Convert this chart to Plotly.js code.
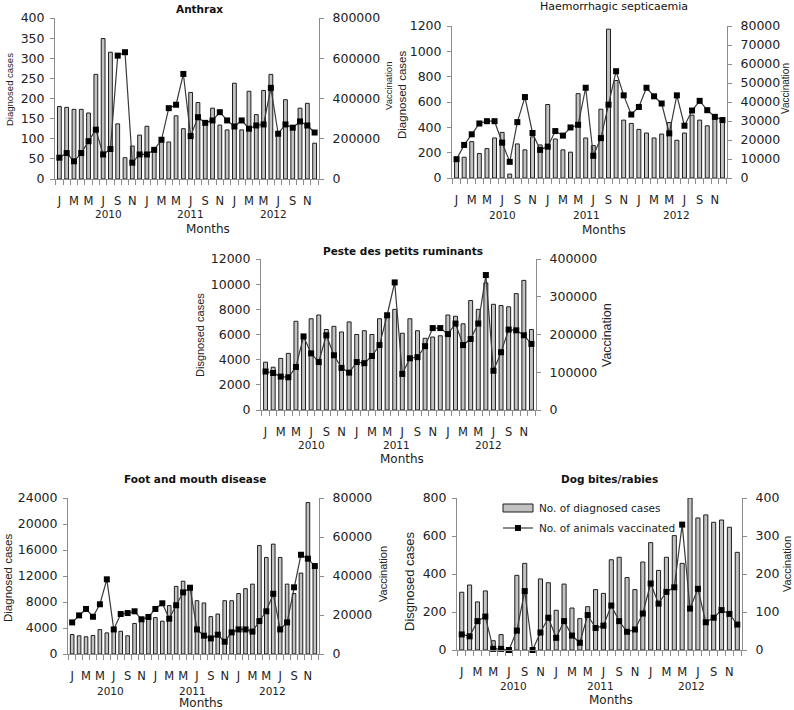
<!DOCTYPE html>
<html>
<head>
<meta charset="utf-8">
<script src="https://cdn.plot.ly/plotly-3.0.1.min.js"></script>
<style>
  html, body { margin: 0; padding: 0; background: #fff; }
  #chart { width: 794px; height: 710px; }
</style>
</head>
<body>
<div id="chart"></div>
<script>
// ---------- DATA ----------
const months = ['Jan 2010','Feb 2010','Mar 2010','Apr 2010','May 2010','Jun 2010','Jul 2010','Aug 2010','Sep 2010','Oct 2010','Nov 2010','Dec 2010',
                'Jan 2011','Feb 2011','Mar 2011','Apr 2011','May 2011','Jun 2011','Jul 2011','Aug 2011','Sep 2011','Oct 2011','Nov 2011','Dec 2011',
                'Jan 2012','Feb 2012','Mar 2012','Apr 2012','May 2012','Jun 2012','Jul 2012','Aug 2012','Sep 2012','Oct 2012','Nov 2012','Dec 2012'];
const monthTickLabels = ['J','M','M','J','S','N','J','M','M','J','S','N','J','M','M','J','S','N'];
const years = ['2010','2011','2012'];

const anthraxCases = [180,178,173,173,164,260,349,315,137,53,82,109,131,72,95,92,157,125,215,190,138,176,134,122,238,122,218,160,220,260,112,197,128,176,188,89];
const anthraxVacc  = [106000,129000,88000,129000,188000,245000,122000,149000,613000,630000,81000,122000,122000,145000,195000,352000,369000,522000,213000,307000,279000,291000,332000,291000,261000,291000,250000,266000,271000,453000,225000,271000,255000,286000,266000,231000];

const hsCases = [145,164,287,193,232,316,360,31,269,222,325,261,580,308,222,204,666,316,256,543,1175,770,457,431,384,355,316,347,438,298,355,496,457,412,465,450];
const hsVacc  = [9900,17400,23000,28700,29900,29900,18600,8500,29400,42600,23700,14800,16500,24700,22300,26600,28000,47500,11700,21000,38600,56200,43500,33400,37400,47500,43000,39200,23500,43500,27500,35500,40600,35700,32200,30500];

const pprCases = [3800,3400,4100,4500,7050,5800,7250,7550,6400,6650,6200,7000,6000,6300,6000,7250,7400,8000,6100,7250,6300,5700,5800,5900,7550,7450,6850,8700,8000,10100,8400,8300,8200,9250,10300,6400];
const pprVacc  = [102000,98000,88500,86700,114000,195000,150000,127000,198000,145000,111500,99000,127000,124000,143000,172000,251000,338000,95600,137000,140000,169000,217000,217000,201000,229000,172000,188000,229000,357500,104000,153000,213000,211000,198000,175000];

const fmdCases = [3000,2800,2650,2850,3750,3250,3900,3500,2800,4700,5000,5400,5600,5050,7450,10400,11200,9900,8200,7850,5750,6150,8200,8200,9300,10050,10750,16700,14850,16900,14850,10750,9300,12450,23300,13300];
const fmdVacc  = [16200,19800,23100,19100,25500,38300,12600,20500,21000,21900,17800,19000,23100,26000,18100,25000,31600,34000,12600,9400,8000,9900,6300,11100,12600,12600,11500,16900,21900,30900,12600,16200,34200,50900,48900,45100];

const dogCases = [304,342,253,311,49,81,0,393,456,0,374,354,209,347,221,165,228,318,298,475,488,381,318,463,565,419,488,602,456,800,695,711,672,684,646,514];
const dogVacc  = [41,36,76,88,3,3,0,51,155,0,46,85,32,76,38,19,92,58,64,117,76,48,54,96,175,122,153,165,330,109,161,73,85,105,95,67];

const seriesNames = ['No. of diagnosed cases', 'No. of animals vaccinated'];

// ---------- LAYOUT CONFIG ----------
const W = 794, H = 710;
const px = v => v / W;
const py = v => 1 - v / H;
const FONT = 'DejaVu Sans, sans-serif';
const TFONT = 'Liberation Sans, Arial, sans-serif';
const AX = '#8c8c8c';

const panels = [
  {title:'Anthrax', bold:true, cases:anthraxCases, vacc:anthraxVacc, yl:[0,400], dl:50, yr:[0,800000], dr:200000,
   L:55, R:319, T:18, B:179, tx:199, ty:9, ylt:'Diagnosed cases', ylx:9, yly:90, yls:9.5, yrx:388, yry:86, yrs:9.5,
   yearY:214, yearX:[6.7,18,29.4], mX:208, mY:229},
  {title:'Haemorrhagic septicaemia', bold:false, cases:hsCases, vacc:hsVacc, yl:[0,1200], dl:200, yr:[0,80000], dr:10000,
   L:452, R:727, T:26, B:178, tx:614, ty:7, ylt:'Diagnosed cases', ylx:402, yly:95, yls:11.5, yrx:785, yry:89, yrs:10,
   yearY:215, yearX:[6,17.1,29], mX:604, mY:230},
  {title:'Peste des petits ruminants', bold:true, cases:pprCases, vacc:pprVacc, yl:[0,12000], dl:2000, yr:[0,400000], dr:100000,
   L:261, R:536, T:259, B:410, tx:403, ty:251, ylt:'Disgnosed cases', ylx:200, yly:335, yls:11, yrx:607, yry:335, yrs:12.5,
   yearY:445, yearX:[6,17.3,29.4], mX:402, mY:459},
  {title:'Foot and mouth disease', bold:true, cases:fmdCases, vacc:fmdVacc, yl:[0,24000], dl:4000, yr:[0,80000], dr:20000,
   L:68, R:319, T:498, B:654, tx:195, ty:479, ylt:'Diagnosed cases', ylx:8, yly:578, yls:11.5, yrx:383, yry:574, yrs:11,
   yearY:691, yearX:[5.5,17.3,28.9], mX:201, mY:703},
  {title:'Dog bites/rabies', bold:true, cases:dogCases, vacc:dogVacc, yl:[0,800], dl:200, yr:[0,400], dr:100,
   L:457, R:742, T:498, B:650, tx:609, ty:479, ylt:'Disgnosed cases', ylx:409, yly:582, yls:13, yrx:787, yry:564, yrs:11,
   yearY:686, yearX:[6.6,17.6,29.2], mX:611, mY:700}
];

const idx = months.map((m, i) => i);
const labelIdx = monthTickLabels.map((m, i) => i * 2);
const bounds = [];
for (let i = 0; i <= months.length; i++) bounds.push(i - 0.5);

const data = [];
const layout = {
  width: W, height: H,
  margin: {l:0, r:0, t:0, b:0},
  paper_bgcolor: '#fff', plot_bgcolor: 'rgba(0,0,0,0)',
  showlegend: false,
  bargap: 0,
  annotations: [],
  shapes: []
};

panels.forEach((p, k) => {
  const n = k + 1;
  const xa = 'xaxis' + (n === 1 ? '' : n);
  const xr = 'x' + (n === 1 ? '' : n);
  const yl = 2 * n - 1, yr = 2 * n;
  const yla = 'yaxis' + (yl === 1 ? '' : yl);
  const ylr = 'y' + (yl === 1 ? '' : yl);
  const yra = 'yaxis' + yr;
  const yrr = 'y' + yr;

  layout[xa] = {
    domain: [px(p.L), px(p.R)], anchor: ylr, range: [-0.6, 35.6],
    showline: true, linecolor: AX, linewidth: 1, showgrid: false, zeroline: false,
    tickmode: 'array', tickvals: labelIdx, ticktext: monthTickLabels,
    ticks: '', ticklabelstandoff: 11,
    tickfont: {family: FONT, size: 11.5, color: '#222'},
    minor: {tickmode: 'array', tickvals: bounds, ticks: 'outside', ticklen: 5, tickcolor: AX, tickwidth: 1, showgrid: false},
    fixedrange: true
  };
  layout[yla] = {
    domain: [py(p.B), py(p.T)], anchor: xr, range: p.yl,
    tickmode: 'linear', tick0: 0, dtick: p.dl, tickformat: 'd',
    ticks: 'outside', ticklen: 4, tickcolor: AX, ticklabelstandoff: 3,
    showline: true, linecolor: AX, linewidth: 1, showgrid: false, zeroline: false,
    tickfont: {family: FONT, size: 12.5, color: '#222'}, fixedrange: true
  };
  layout[yra] = {
    overlaying: ylr, side: 'right', anchor: xr, range: p.yr,
    tickmode: 'linear', tick0: 0, dtick: p.dr, tickformat: 'd',
    ticks: 'outside', ticklen: 4, tickcolor: AX, ticklabelstandoff: 6,
    showline: true, linecolor: AX, linewidth: 1, showgrid: false, zeroline: false,
    tickfont: {family: FONT, size: 12.5, color: '#222'}, fixedrange: true
  };

  data.push({
    type: 'bar', name: seriesNames[0], x: idx, y: p.cases, xaxis: xr, yaxis: ylr,
    width: 0.52,
    marker: {color: '#c2c2c2', line: {color: '#1e1e1e', width: 1}},
    hoverinfo: 'skip'
  });
  data.push({
    type: 'scatter', mode: 'lines+markers', name: seriesNames[1], x: idx, y: p.vacc, xaxis: xr, yaxis: yrr,
    line: {color: '#3a3a3a', width: 1.2},
    marker: {symbol: 'square', size: 6, color: '#000'},
    hoverinfo: 'skip', cliponaxis: false
  });

  const ann = layout.annotations;
  ann.push({xref:'paper', yref:'paper', x:px(p.tx), y:py(p.ty), xanchor:'center', yanchor:'middle', showarrow:false,
    text: p.bold ? '<b>' + p.title + '</b>' : p.title,
    font:{family: FONT, size: p.bold ? 10.5 : 11, color:'#111'}});
  ann.push({xref:'paper', yref:'paper', x:px(p.ylx), y:py(p.yly), xanchor:'center', yanchor:'middle', showarrow:false,
    textangle:-90, text:p.ylt, font:{family: TFONT, size:p.yls, color:'#222'}});
  ann.push({xref:'paper', yref:'paper', x:px(p.yrx), y:py(p.yry), xanchor:'center', yanchor:'middle', showarrow:false,
    textangle:-90, text:'Vaccination', font:{family: TFONT, size:p.yrs, color:'#222'}});
  ann.push({xref:'paper', yref:'paper', x:px(p.mX), y:py(p.mY), xanchor:'center', yanchor:'middle', showarrow:false,
    text:'Months', font:{family: FONT, size:12, color:'#222'}});
  years.forEach((yv, j) => {
    ann.push({xref:xr, yref:'paper', x:p.yearX[j], y:py(p.yearY), xanchor:'center', yanchor:'middle', showarrow:false,
      text:yv, font:{family: FONT, size:10.5, color:'#222'}});
  });
});

// Legend (drawn in the Dog bites/rabies panel)
layout.shapes.push({type:'rect', xref:'paper', yref:'paper', x0:px(503), x1:px(533), y0:py(512), y1:py(504),
  fillcolor:'#c2c2c2', line:{color:'#1e1e1e', width:1}});
layout.shapes.push({type:'line', xref:'paper', yref:'paper', x0:px(503), x1:px(533), y0:py(528), y1:py(528),
  line:{color:'#3a3a3a', width:1.2}});
layout.shapes.push({type:'rect', xref:'paper', yref:'paper', x0:px(515), x1:px(521), y0:py(531), y1:py(525),
  fillcolor:'#000', line:{color:'#000', width:0}});
layout.annotations.push({xref:'paper', yref:'paper', x:px(537), y:py(508), xanchor:'left', yanchor:'middle', showarrow:false,
  text:seriesNames[0], font:{family: FONT, size:10.5, color:'#222'}});
layout.annotations.push({xref:'paper', yref:'paper', x:px(537), y:py(528), xanchor:'left', yanchor:'middle', showarrow:false,
  text:seriesNames[1], font:{family: FONT, size:10.5, color:'#222'}});

Plotly.newPlot('chart', data, layout, {staticPlot: true, displayModeBar: false});
</script>
</body>
</html>
